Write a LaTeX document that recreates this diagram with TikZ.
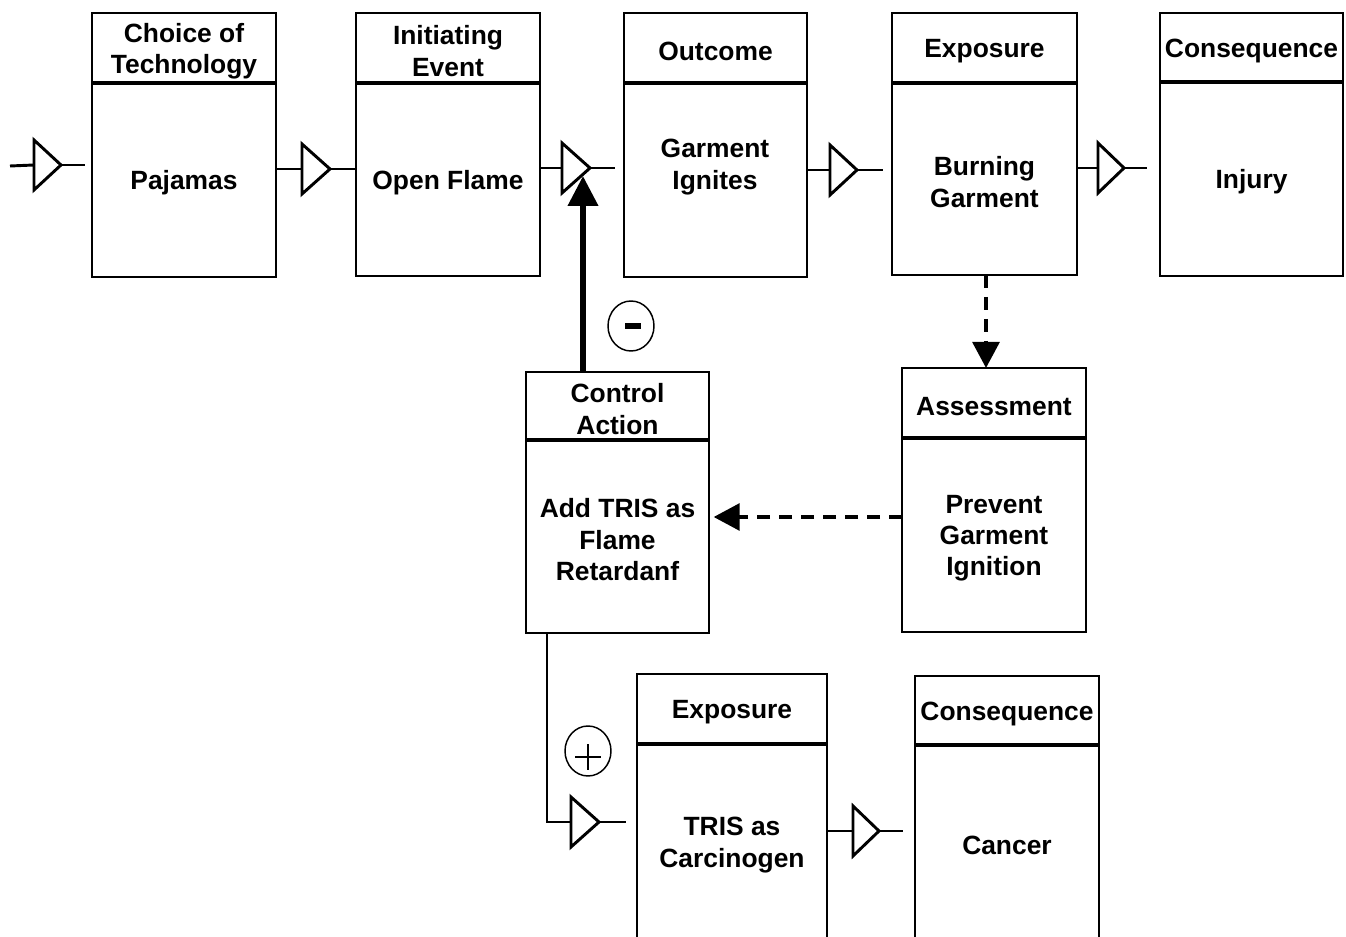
\documentclass[tikz,border=0pt]{standalone}
\usepackage{fontspec}
\setmainfont{Liberation Sans}
\usetikzlibrary{arrows.meta,shapes.geometric,calc}
\tikzset{
  hdr/.style={draw, line width=2.2pt, rectangle, inner sep=0pt, outer sep=0pt},
  bod/.style={draw, line width=2.2pt, rectangle, inner sep=0pt, outer sep=0pt},
  sep/.style={line width=3.4pt},
  lbl/.style={align=center, inner sep=0pt, yshift=-2.3pt, font=\fontsize{19.8pt}{23.5pt}\selectfont\bfseries},
  tri/.style={line width=2.2pt, line join=miter},
  conn/.style={line width=2.2pt},
  thickarr/.style={line width=4.5pt, -{Triangle[width=22pt,length=22.5pt]}},
  dasharr/.style={line width=3pt, dash pattern=on 9.5pt off 7pt, -{Triangle[width=20pt,length=19.5pt]}},
  sign/.style={draw, ellipse, line width=1.1pt, inner sep=0pt, minimum width=34.5pt, minimum height=37.5pt}
}
% name, x1, y1, x2, yh, y2, header, body
\newcommand\rbox[8]{%
  \node[hdr, minimum width={(#4-#2)*0.75pt}, minimum height={(#5-#3)*0.75pt}] (#1h) at ({(#2+#4)/2},{(#3+#5)/2}) {};
  \node[lbl] (#1ht) at (#1h.center) {#7};
  \node[bod, minimum width={(#4-#2)*0.75pt}, minimum height={(#6-#5)*0.75pt}] (#1) at ({(#2+#4)/2},{(#5+#6)/2}) {};
  \node[lbl] (#1t) at (#1.center) {#8};
  \draw[sep] (#1.north west) -- (#1.north east);}
\begin{document}
\begin{tikzpicture}[x=0.75pt,y=-0.75pt]
\useasboundingbox (0,0) rectangle (1346,937);
\clip (0,0) rectangle (1346,937);
\fill[white] (0,0) rectangle (1346,937);

% top row boxes
\rbox{b1}{92}{13}{276}{83}{277}{Choice of\\Technology}{Pajamas}
\rbox{b2}{356}{13}{540}{83}{276}{Initiating\\Event}{Open Flame}
\rbox{b3}{624}{13}{807}{83}{277}{Outcome}{}
\node[lbl] (b3t2) at (715,164) {Garment\\Ignites};
\rbox{b4}{892}{13}{1077}{83}{275}{Exposure}{Burning\\Garment}
\rbox{b5}{1160}{13}{1343}{82}{276}{Consequence}{Injury}
% middle row
\rbox{ctrl}{526}{372}{709}{440}{633}{Control\\Action}{Add TRIS as\\Flame\\Retardanf}
\rbox{asm}{902}{368}{1086}{438}{632}{Assessment}{Prevent\\Garment\\Ignition}
% bottom row
\rbox{b6}{637}{674}{827}{744}{940}{Exposure}{TRIS as\\Carcinogen}
\rbox{b7}{915}{676}{1099}{745}{939}{Consequence}{Cancer}

% triangle coordinates (base midpoint, apex)
\coordinate (tAb) at (34,165);  \coordinate (tAa) at (61,165);
\coordinate (tBb) at (302,169); \coordinate (tBa) at (330,169);
\coordinate (tCb) at (562,168); \coordinate (tCa) at (590,168);
\coordinate (tDb) at (830,170); \coordinate (tDa) at (857,170);
\coordinate (tEb) at (1098,168);\coordinate (tEa) at (1124,168);
\coordinate (tFb) at (571,822); \coordinate (tFa) at (599,822);
\coordinate (tGb) at (853,831); \coordinate (tGa) at (879,831);
\foreach \t in {tA,tB,tC,tD,tE,tF,tG}{
  \draw[tri] (\t b) ++(0,-25) -- (\t a) -- ($(\t b)+(0,25)$) -- cycle;
}
\coordinate (in0) at (10,166);

% connectors along the chain
\draw[conn] (in0) -- (tAb);
\draw[conn, shorten >=5pt] (tAa) -- (tAa -| b1.west);
\draw[conn] (tBb -| b1.east) -- (tBb);
\draw[conn] (tBa) -- (tBa -| b2.west);
\draw[conn] (tCb -| b2.east) -- (tCb);
\draw[conn, shorten >=7pt] (tCa) -- (tCa -| b3.west);
\draw[conn] (tDb -| b3.east) -- (tDb);
\draw[conn, shorten >=7pt] (tDa) -- (tDa -| b4.west);
\draw[conn] (tEb -| b4.east) -- (tEb);
\draw[conn, shorten >=10pt] (tEa) -- (tEa -| b5.west);
\draw[conn] (tGb -| b6.east) -- (tGb);
\draw[conn, shorten >=9pt] (tGa) -- (tGa -| b7.west);
\draw[conn, shorten >=8pt] (tFa) -- (tFa -| b6.west);

% control action to bottom chain
\coordinate (corner) at (547,822);
\draw[conn] (ctrl.south -| corner) -- (corner) -- (tFb);

% thick feedback arrow
\coordinate (tCin) at (583,176);
\draw[thickarr] (tCin |- ctrlh.north) -- (tCin);

% dashed arrows
\draw[dasharr] (b4.south -| 986,0) -- (asmh.north -| 986,0);
\draw[dasharr, shorten >=3.5pt] (asm.west |- 0,517) -- (ctrl.east |- 0,517);

% sign circles
\node[sign] (minus) at (631,326) {};
\fill (625,323) rectangle (641,329);
\node[sign] (plus) at (588,751) {};
\draw[line width=1pt] (575,757) -- (601,757) (588,744) -- (588,770);
\end{tikzpicture}
\end{document}
